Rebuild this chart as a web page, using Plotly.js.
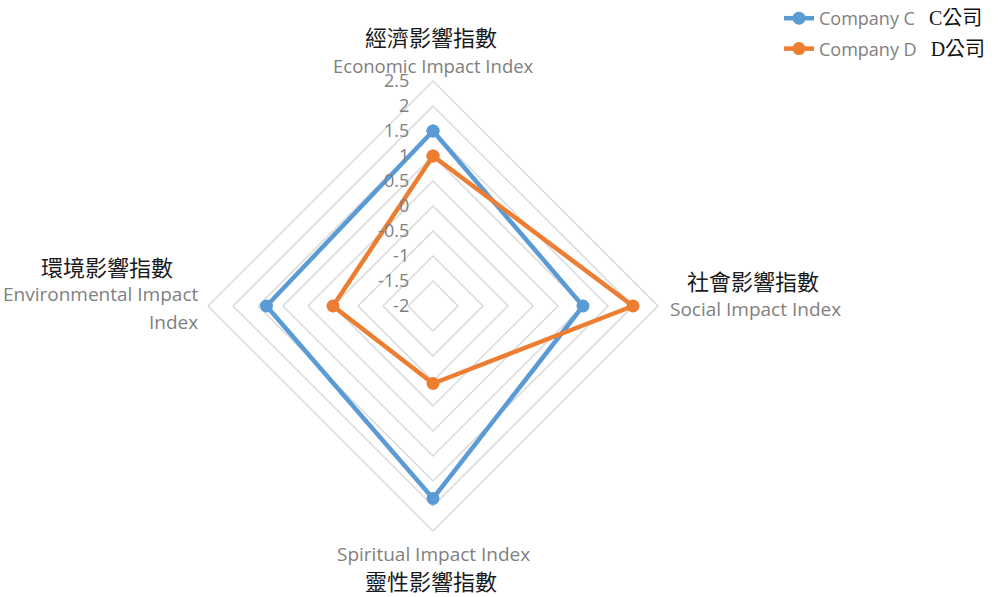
<!DOCTYPE html>
<html>
<head>
<meta charset="utf-8">
<script src="https://cdn.plot.ly/plotly-3.0.1.min.js"></script>
<style>html,body{margin:0;padding:0;background:#fff;}#chart{width:1001px;height:597px;}</style>
</head>
<body>
<div id="chart"></div>
<script>
const categories = ['Economic Impact Index', 'Social Impact Index', 'Spiritual Impact Index', 'Environmental Impact Index'];
const categoriesZh = ['經濟影響指數', '社會影響指數', '靈性影響指數', '環境影響指數'];
const seriesNames = ['Company C', 'Company D'];
const seriesNamesZh = ['C公司', 'D公司'];
const companyC = [1.5, 1.0, 1.85, 1.33];
const companyD = [1.0, 2.0, -0.45, 0.0];
const tickValues = [-2, -1.5, -1, -0.5, 0, 0.5, 1, 1.5, 2, 2.5];
const tickLabels = ['-2', '-1.5', '-1', '-0.5', '0', '0.5', '1', '1.5', '2', '2.5'];

const GRAY = '#808080';
const EN_FONT = 'Open Sans, Noto Sans, sans-serif';
const ZH_FONT = 'Liberation Serif, Noto Sans CJK TC, serif';
const colors = ['#5B9BD5', '#ED7D31'];

// Plotly hides polar markers when the radial range starts below zero,
// so the radial axis is offset by its minimum and relabelled with the real values.
const rMin = tickValues[0];
const rMax = tickValues[tickValues.length - 1];
const toAxis = v => v - rMin;
function closed(a) { return a.concat([a[0]]); }

const allSeries = [companyC, companyD];
const traces = allSeries.map((vals, i) => ({
  type: 'scatterpolar',
  mode: 'lines+markers',
  r: closed(vals).map(toAxis),
  theta: closed(categories),
  legendgroup: 'g' + i,
  name: '<span style="color:' + GRAY + ';font-family:' + EN_FONT + '">' + seriesNames[i] + '</span>&nbsp;&nbsp;&nbsp;' +
        '<span style="color:#111;font-family:' + ZH_FONT + ';font-size:20px">' + seriesNamesZh[i] + '</span>',
  line: { color: colors[i], width: 4.5 },
  marker: { color: colors[i], size: 13 },
  hoverinfo: 'skip'
}));

const ann = [];
function addText(text, x, y, opts) {
  ann.push(Object.assign({
    text: text, x: x / 1001, y: 1 - y / 597, xref: 'paper', yref: 'paper',
    showarrow: false, xanchor: 'center', yanchor: 'middle'
  }, opts));
}
const zhFont = { family: ZH_FONT, size: 22, color: '#1a1a1a' };
const enFont = { family: EN_FONT, size: 19, color: GRAY };
const enFontTop = { family: EN_FONT, size: 18.5, color: GRAY };
// top
addText(categoriesZh[0], 431, 38, { font: zhFont });
addText('Economic Impact Index', 433, 65, { font: enFontTop });
// right
addText(categoriesZh[1], 753, 282, { font: zhFont });
addText('Social Impact Index', 755, 309, { font: enFont });
// bottom
addText('Spiritual Impact Index', 433, 554, { font: enFont });
addText(categoriesZh[2], 431, 582, { font: zhFont });
// left
addText(categoriesZh[3], 107, 268, { font: zhFont });
addText('Environmental Impact', 200, 294, { font: enFont, xanchor: 'right' });
addText('Index', 200, 322, { font: enFont, xanchor: 'right' });

const layout = {
  width: 1001, height: 597,
  margin: { l: 0, r: 0, t: 0, b: 0 },
  paper_bgcolor: '#fff',
  showlegend: true,
  legend: {
    x: 779 / 1001, y: 1, xanchor: 'left', yanchor: 'top',
    font: { family: EN_FONT, size: 18, color: GRAY },
    bgcolor: 'rgba(0,0,0,0)', itemwidth: 30, tracegroupgap: 4
  },
  polar: {
    domain: { x: [208 / 1001, 658 / 1001], y: [66 / 597, 516 / 597] },
    gridshape: 'linear',
    bgcolor: '#fff',
    radialaxis: {
      range: [toAxis(rMin), toAxis(rMax)], tickmode: 'array',
      tickvals: tickValues.map(toAxis), ticktext: tickLabels,
      angle: 90, side: 'counterclockwise', showline: false,
      ticks: 'outside', ticklen: 17, tickcolor: 'rgba(0,0,0,0)', tickangle: 90,
      gridcolor: '#d9d9d9', gridwidth: 1.5,
      tickfont: { family: EN_FONT, size: 18, color: GRAY }
    },
    angularaxis: {
      direction: 'clockwise', rotation: 90, showticklabels: false, ticks: '',
      showgrid: false, showline: true, linecolor: '#d9d9d9', linewidth: 1.5
    }
  },
  annotations: ann
};

Plotly.newPlot('chart', traces, layout, { staticPlot: true, displayModeBar: false });
</script>
</body>
</html>
